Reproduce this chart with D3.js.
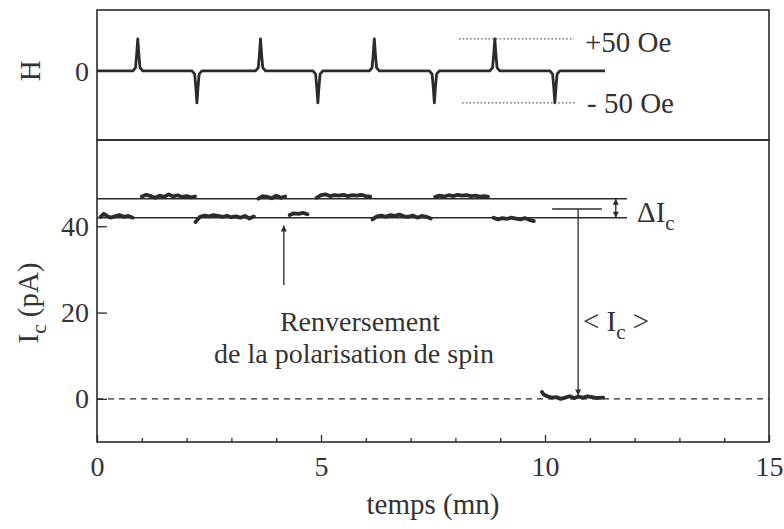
<!DOCTYPE html>
<html>
<head>
<meta charset="utf-8">
<script src="https://cdn.jsdelivr.net/npm/d3@7"></script>
<style>
  body { margin: 0; background: #fff; }
  svg text { font-family: "Times New Roman", "Liberation Serif", Tinos, "DejaVu Serif", serif; fill: #333; }
</style>
</head>
<body>
<svg id="chart" width="784" height="529" font-family="Liberation Serif, Times New Roman, serif"></svg>
<script>
// field pulses (mn) and their height (Oe)
var spikeUp = [0.91, 3.65, 6.19, 8.88];
var spikeDown = [2.23, 4.93, 7.53, 10.22];
var hEnd = 11.34;
var hAmp = 50;

// Ic levels (pA)
var levelHigh = 46.4;
var levelLow = 42.0;
var levelEnd = 11.83;
var meanIc = 44.0;

// tick values
var xTicks = [0, 1, 2, 3, 4, 5, 6, 7, 8, 9, 10, 11, 12, 13, 14, 15];
var xLabels = [0, 5, 10, 15];
var yTicks = [0, 20, 40];

// measured Ic segments [t (mn), Ic (pA)]
var segLow1 = [[0.08, 42.2], [0.15, 42.9], [0.22, 42.4], [0.3, 42.0], [0.4, 42.3], [0.5, 42.6], [0.6, 42.2], [0.7, 42.4], [0.8, 42.0]];
var segHigh1 = [[1.0, 46.9], [1.1, 47.3], [1.2, 47.0], [1.3, 46.6], [1.4, 47.1], [1.5, 46.8], [1.6, 47.4], [1.7, 46.9], [1.8, 47.2], [1.9, 46.8], [2.0, 47.0], [2.1, 46.7], [2.19, 46.9]];
var segLow2 = [[2.2, 41.0], [2.3, 42.2], [2.4, 42.5], [2.5, 42.3], [2.6, 42.6], [2.7, 42.4], [2.8, 42.2], [2.9, 42.4], [3.0, 42.1], [3.1, 42.3], [3.2, 42.0], [3.3, 42.4], [3.4, 41.8], [3.5, 42.3]];
var segHigh2 = [[3.6, 46.4], [3.7, 47.0], [3.8, 46.8], [3.9, 46.5], [4.0, 47.1], [4.1, 46.6], [4.2, 46.9]];
var segLow3 = [[4.3, 42.6], [4.4, 43.0], [4.5, 42.9], [4.6, 43.1], [4.7, 42.8]];
var segHigh3 = [[4.9, 46.6], [5.0, 47.2], [5.1, 47.4], [5.2, 47.0], [5.3, 47.2], [5.4, 47.1], [5.5, 47.3], [5.6, 47.0], [5.7, 47.2], [5.8, 47.1], [5.9, 47.3], [6.0, 47.0], [6.1, 46.9]];
var segLow4 = [[6.15, 41.6], [6.25, 42.3], [6.35, 42.5], [6.45, 42.2], [6.55, 42.6], [6.65, 42.4], [6.75, 42.7], [6.85, 42.3], [6.95, 42.2], [7.05, 42.5], [7.15, 42.0], [7.25, 42.4], [7.35, 42.2], [7.45, 41.8]];
var segHigh4 = [[7.55, 46.8], [7.65, 47.1], [7.75, 46.9], [7.85, 47.2], [7.95, 47.0], [8.05, 47.3], [8.15, 47.1], [8.25, 47.2], [8.35, 47.0], [8.45, 47.1], [8.55, 46.9], [8.65, 47.0], [8.73, 46.9]];
var segLow5 = [[8.85, 42.0], [8.95, 41.6], [9.05, 41.9], [9.15, 41.7], [9.25, 42.0], [9.35, 41.8], [9.45, 41.6], [9.55, 41.9], [9.65, 41.5], [9.75, 41.2]];
var segZero = [[9.93, 1.6], [9.97, 1.0], [10.05, 0.6], [10.15, 0.3], [10.25, 0.4], [10.35, 0.0], [10.45, 0.3], [10.55, 0.6], [10.65, 0.2], [10.75, 0.5], [10.85, 0.3], [10.95, 0.6], [11.05, 0.4], [11.15, 0.2], [11.3, 0.3]];

var segments = [segLow1, segHigh1, segLow2, segHigh2, segLow3, segHigh3, segLow4, segHigh4, segLow5, segZero];

var svg = d3.select("#chart");
var ink = "#2b2b2b";
var serif = "Liberation Serif, Times New Roman, serif";

var x = d3.scaleLinear().domain([0, 15]).range([97, 769]);
var yH = d3.scaleLinear().domain([-108, 95]).range([140, 10]);
var yI = d3.scaleLinear().domain([-10, 60]).range([442, 140]);

function label(px, py, size, str) {
    return svg.append("text").attr("x", px).attr("y", py)
        .attr("font-family", serif).attr("font-size", size).text(str);
}

// arrow heads
var defs = svg.append("defs");
defs.append("marker")
    .attr("id", "head")
    .attr("viewBox", "0 0 10 10")
    .attr("refX", 10).attr("refY", 5)
    .attr("markerWidth", 10).attr("markerHeight", 6)
    .attr("markerUnits", "userSpaceOnUse")
    .attr("orient", "auto-start-reverse")
    .append("path").attr("d", "M0,0 L10,5 L0,10 Z").attr("fill", ink);

// ---- top panel: H ----
function spikePts(t, s) {
    return [[t - 0.11, 0], [t - 0.05, 5 * s], [t - 0.025, 25 * s], [t, hAmp * s],
            [t + 0.025, 25 * s], [t + 0.05, 5 * s], [t + 0.11, 0]];
}
var events = spikeUp.map(function (t) { return { t: t, s: 1 }; })
    .concat(spikeDown.map(function (t) { return { t: t, s: -1 }; }))
    .sort(function (a, b) { return a.t - b.t; });
var hPts = [[0, 0]];
events.forEach(function (e) { hPts = hPts.concat(spikePts(e.t, e.s)); });
hPts.push([hEnd, 0]);

var lineH = d3.line().x(function (d) { return x(d[0]); }).y(function (d) { return yH(d[1]); });
svg.append("path")
    .attr("d", lineH(hPts))
    .attr("fill", "none").attr("stroke", ink).attr("stroke-width", 2.8)
    .attr("stroke-linejoin", "round");

// +/-50 Oe reference marks
svg.append("line")
    .attr("x1", x(8.08)).attr("x2", x(10.65))
    .attr("y1", yH(hAmp)).attr("y2", yH(hAmp))
    .attr("stroke", "#555").attr("stroke-width", 1.3).attr("stroke-dasharray", "1.5,2.2");
svg.append("line")
    .attr("x1", x(8.15)).attr("x2", x(10.69))
    .attr("y1", yH(-hAmp)).attr("y2", yH(-hAmp))
    .attr("stroke", "#555").attr("stroke-width", 1.3).attr("stroke-dasharray", "1.5,2.2");
label(585, 52, 29, "+50 Oe");
label(587, 113, 29, "- 50 Oe");

label(89, yH(0), 28, "0").attr("dy", "0.35em").attr("text-anchor", "end");
svg.append("text")
    .attr("transform", "translate(30," + yH(0) + ") rotate(-90)")
    .attr("font-family", serif)
    .attr("text-anchor", "middle").attr("dy", "0.35em").attr("font-size", 29).text("H");

// ---- bottom panel: Ic ----
svg.append("line")
    .attr("x1", x(0)).attr("x2", x(15)).attr("y1", yI(0)).attr("y2", yI(0))
    .attr("stroke", ink).attr("stroke-width", 1.2).attr("stroke-dasharray", "6,5");

[levelHigh, levelLow].forEach(function (v) {
    svg.append("line")
        .attr("x1", x(0)).attr("x2", x(levelEnd)).attr("y1", yI(v)).attr("y2", yI(v))
        .attr("stroke", ink).attr("stroke-width", 1.5);
});

var lineI = d3.line().x(function (d) { return x(d[0]); }).y(function (d) { return yI(d[1]); });
svg.append("g").selectAll("path")
    .data(segments)
    .enter().append("path")
    .attr("d", lineI)
    .attr("fill", "none").attr("stroke", ink).attr("stroke-width", 3.8)
    .attr("stroke-linejoin", "round").attr("stroke-linecap", "round");

// delta Ic
svg.append("line")
    .attr("x1", x(11.58)).attr("x2", x(11.58))
    .attr("y1", yI(levelLow)).attr("y2", yI(levelHigh))
    .attr("stroke", ink).attr("stroke-width", 1.3)
    .attr("marker-start", "url(#head)").attr("marker-end", "url(#head)");
var dI = label(637, 222, 29, null);
dI.append("tspan").text("\u0394I");
dI.append("tspan").attr("font-size", 21).attr("dy", 8).text("c");

// mean Ic
svg.append("line")
    .attr("x1", x(10.16)).attr("x2", x(11.27))
    .attr("y1", yI(meanIc)).attr("y2", yI(meanIc))
    .attr("stroke", ink).attr("stroke-width", 1.5);
svg.append("line")
    .attr("x1", x(10.74)).attr("x2", x(10.74))
    .attr("y1", yI(meanIc)).attr("y2", yI(0.8))
    .attr("stroke", ink).attr("stroke-width", 1.3)
    .attr("marker-end", "url(#head)");
var mI = label(583, 331, 29, null);
mI.append("tspan").text("< I");
mI.append("tspan").attr("font-size", 21).attr("dy", 8).text("c");
mI.append("tspan").attr("dy", -8).text(" >");

// reversal annotation
svg.append("line")
    .attr("x1", x(4.17)).attr("x2", x(4.17))
    .attr("y1", yI(26.4)).attr("y2", yI(40.2))
    .attr("stroke", ink).attr("stroke-width", 1.3)
    .attr("marker-end", "url(#head)");
label(360, 331, 28, "Renversement").attr("text-anchor", "middle");
label(354, 363, 28, "de la polarisation de spin").attr("text-anchor", "middle");

// axes
var xAxis = d3.axisBottom(x).tickValues(xTicks)
    .tickSize(-4).tickPadding(14)
    .tickFormat(function (d) { return xLabels.indexOf(d) >= 0 ? d : ""; });
var gx = svg.append("g").attr("transform", "translate(0," + yI(-10) + ")").call(xAxis);
gx.attr("font-family", serif);
gx.select(".domain").remove();
gx.selectAll(".tick line").attr("stroke", ink).attr("stroke-width", 1.3)
    .attr("y2", function (d) { return d % 5 === 0 ? -7 : -4; });
gx.selectAll(".tick text").attr("font-size", 28).attr("font-family", serif).attr("fill", "#333");

var yAxis = d3.axisLeft(yI).tickValues(yTicks).tickSize(-10).tickPadding(8);
var gy = svg.append("g").attr("transform", "translate(" + x(0) + ",0)").call(yAxis);
gy.attr("font-family", serif);
gy.select(".domain").remove();
gy.selectAll(".tick line").attr("stroke", ink).attr("stroke-width", 1.3);
gy.selectAll(".tick text").attr("font-size", 28).attr("font-family", serif).attr("fill", "#333");

var yl = svg.append("text")
    .attr("transform", "translate(38,303) rotate(-90)")
    .attr("font-family", serif)
    .attr("text-anchor", "middle").attr("font-size", 29);
yl.append("tspan").text("I");
yl.append("tspan").attr("font-size", 21).attr("dy", 8).text("c");
yl.append("tspan").attr("dy", -8).text(" (pA)");

label(433, 514, 29, "temps (mn)").attr("text-anchor", "middle");

// panel frames
svg.append("rect").attr("x", x(0)).attr("y", yH(95)).attr("width", x(15) - x(0)).attr("height", yH(-108) - yH(95))
    .attr("fill", "none").attr("stroke", ink).attr("stroke-width", 1.6);
svg.append("rect").attr("x", x(0)).attr("y", yI(60)).attr("width", x(15) - x(0)).attr("height", yI(-10) - yI(60))
    .attr("fill", "none").attr("stroke", ink).attr("stroke-width", 1.6);
</script>
</body>
</html>
